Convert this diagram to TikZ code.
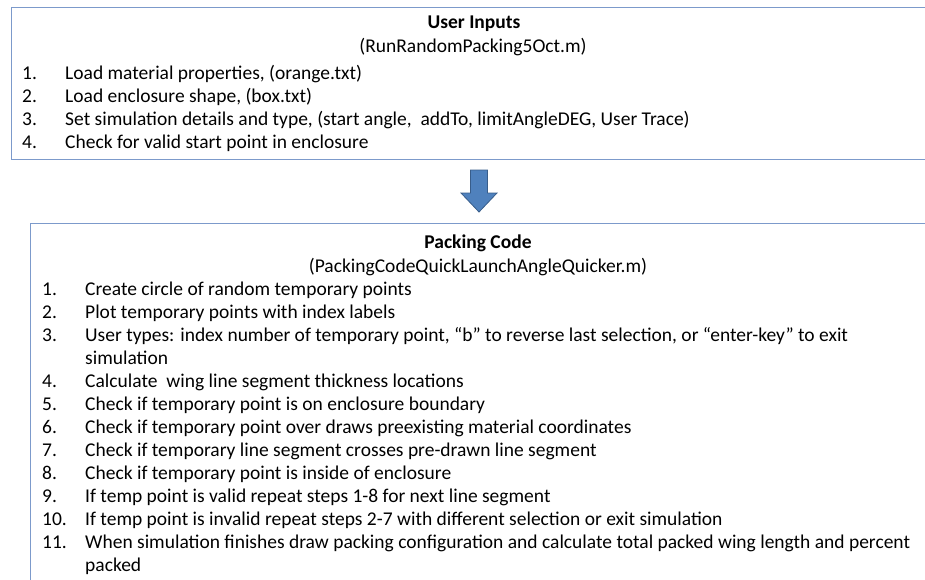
\documentclass[tikz,border=0pt]{standalone}
\usepackage{fontspec}
\setmainfont{Carlito}
\usetikzlibrary{positioning}
\definecolor{frameblue}{RGB}{124,154,203}
\definecolor{arrowfill}{RGB}{79,129,189}
\definecolor{arrowedge}{RGB}{56,93,138}

\begin{document}
\begin{tikzpicture}[x=1pt,y=-1pt,font=\fontsize{19.5}{23}\selectfont,
 panel/.style={draw=frameblue,line width=1pt,anchor=north west,minimum width=1100pt},
 head/.style={anchor=base,inner sep=0pt,font=\fontsize{19.5}{23}\selectfont\bfseries},
 fname/.style={anchor=base,inner sep=0pt},
 num/.style={anchor=base west,inner sep=0pt},
 item/.style={anchor=base west,inner sep=0pt,align=left},
 flow/.style={fill=arrowfill,draw=arrowedge,line width=0.8pt,line join=miter}]
\useasboundingbox (0,0) rectangle (925,579);
% user inputs
\node[panel,minimum height=152pt] (inputs) at (11,7) {};
\node[head] (intitle) at (474,28) {User Inputs};
\node[fname] (infile) at (473,52) {(RunRandomPacking5Oct.m)};
\node[num] (n1) at (22,79) {1.};
\node[item] (i1) at (65,79) {Load material properties, (orange.txt)};
\node[num] (n2) at (22,102) {2.};
\node[item] (i2) at (65,102) {Load enclosure shape, (box.txt)};
\node[num] (n3) at (22,125) {3.};
\node[item] (i3) at (65,125) {Set simulation details and type, (start angle,\ \ addTo, limitAngleDEG, User Trace)};
\node[num] (n4) at (22,148) {4.};
\node[item] (i4) at (65,148) {Check for valid start point in enclosure};
% packing code
\node[panel,minimum height=420pt] (packing) at (30,223) {};
\node[head] (pctitle) at (478,248) {Packing Code};
\node[fname] (pcfile) at (478,272) {(PackingCodeQuickLaunchAngleQuicker.m)};
\node[num] (m1) at (42,295) {1.};
\node[item] (p1) at (85,295) {Create circle of random temporary points};
\node[num] (m2) at (42,318) {2.};
\node[item] (p2) at (85,318) {Plot temporary points with index labels};
\node[num] (m3) at (42,341) {3.};
\node[item] (p3) at (85,364) {User types: index number of temporary point, “b” to reverse last selection, or “enter-key” to exit\\simulation};
\node[num] (m4) at (42,387) {4.};
\node[item] (p4) at (85,387) {Calculate\ \ wing line segment thickness locations};
\node[num] (m5) at (42,410) {5.};
\node[item] (p5) at (85,410) {Check if temporary point is on enclosure boundary};
\node[num] (m6) at (42,433) {6.};
\node[item] (p6) at (85,433) {Check if temporary point over draws preexisting material coordinates};
\node[num] (m7) at (42,456) {7.};
\node[item] (p7) at (85,456) {Check if temporary line segment crosses pre-drawn line segment};
\node[num] (m8) at (42,479) {8.};
\node[item] (p8) at (85,479) {Check if temporary point is inside of enclosure};
\node[num] (m9) at (42,502) {9.};
\node[item] (p9) at (85,502) {If temp point is valid repeat steps 1-8 for next line segment};
\node[num] (m10) at (42,525) {10.};
\node[item] (p10) at (85,525) {If temp point is invalid repeat steps 2-7 with different selection or exit simulation};
\node[num] (m11) at (42,548) {11.};
\node[item] (p11) at (85,571) {When simulation finishes draw packing configuration and calculate total packed wing length and percent\\packed};
% block arrow between the panels
\coordinate (tail) at (479,170);
\coordinate (tip) at (479,212);
\draw[flow] (tail) ++(-8.5,0) -- ++(17,0) -- ++(0,23) -- ++(9.5,0) -- (tip) -- ++(-18,-19) -- ++(9.5,0) -- cycle;
\end{tikzpicture}
\end{document}
